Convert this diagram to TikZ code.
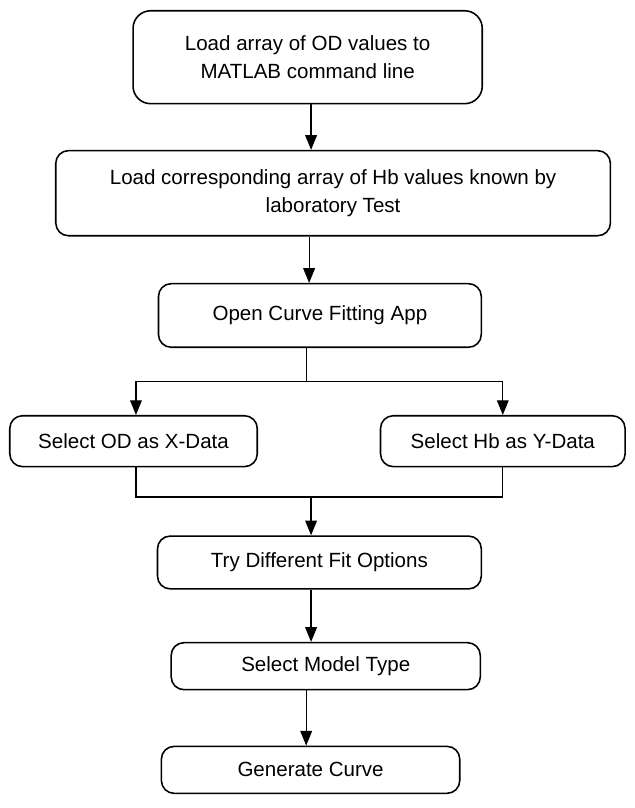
\documentclass[tikz,border=0pt]{standalone}
\usepackage{fontspec}
\setmainfont{Liberation Sans}
\usetikzlibrary{arrows.meta}
\begin{document}
\begin{tikzpicture}[x=1pt,y=-1pt,>={Triangle[length=15pt,width=12pt]},
  box/.style={draw,line width=1.6pt,rounded corners=13pt,align=center,inner sep=0pt,font=\fontsize{21}{28}\selectfont},
  line/.style={line width=1.2pt}]
\useasboundingbox (0,0) rectangle (649,826);
\node[box,minimum width=357pt,minimum height=95pt,rounded corners=18pt] (load) at (314.5,58.5) {Load array of OD values to\\MATLAB command line};
\node[box,minimum width=567pt,minimum height=87pt] (loadhb) at (340.5,197.5) {Load corresponding array of Hb values known by\\laboratory Test};
\node[box,minimum width=330pt,minimum height=65pt] (openapp) at (327,322.5) {Open Curve Fitting App};
\node[box,minimum width=253pt,minimum height=52pt] (selx) at (136.5,451) {Select OD as X-Data};
\node[box,minimum width=250pt,minimum height=52pt] (sely) at (514,451) {Select Hb as Y-Data};
\node[box,minimum width=331pt,minimum height=54pt] (tryfit) at (326.5,575) {Try Different Fit Options};
\node[box,minimum width=316pt,minimum height=48pt] (model) at (333,681) {Select Model Type};
\node[box,minimum width=305pt,minimum height=48pt] (gen) at (317.5,787) {Generate Curve};
% junctions
\coordinate (c1) at (318,0);
\coordinate (c2) at (316,0);
\coordinate (split) at (313,390);
\coordinate (sl) at (139,390);
\coordinate (sr) at (514,390);
\coordinate (merge) at (318,508);
\coordinate (c6) at (313,0);
\draw[line,->] (load.south -| c1) -- (loadhb.north -| c1);
\draw[line,->] (loadhb.south -| c2) -- (openapp.north -| c2);
\draw[line,->] (openapp.south -| split) -- (split) -| (selx.north -| sl);
\draw[line,->] (split) -| (sely.north -| sr);
\draw[line] (selx.south -| sl) |- (merge) -| (sely.south -| sr);
\draw[line,->] (merge) -- (tryfit.north -| merge);
\draw[line,->] (tryfit.south -| merge) -- (model.north -| merge);
\draw[line,->] (model.south -| c6) -- (gen.north -| c6);
\end{tikzpicture}
\end{document}
